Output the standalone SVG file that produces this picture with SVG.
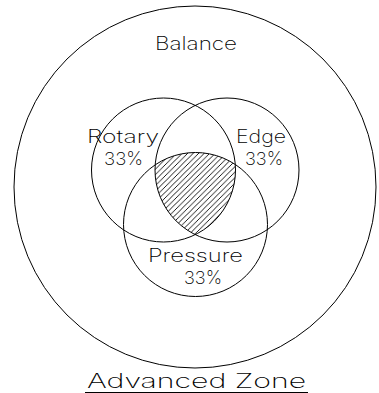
<svg xmlns="http://www.w3.org/2000/svg" width="379" height="393" viewBox="0 0 379 393">
<style>
.c{fill:none;stroke:#000;stroke-width:1}
.t{font-family:Inter,"Liberation Sans","DejaVu Sans",sans-serif;font-size:18px;fill:#000;font-weight:200}
.ti{font-family:Inter,"Liberation Sans","DejaVu Sans",sans-serif;font-size:20px;fill:#000;font-weight:200}
</style>
<defs>
<pattern id="hatch" patternUnits="userSpaceOnUse" width="5.5" height="5.5">
<path d="M-1,6.5 L6.5,-1 M-1,1 L1,-1 M4.5,6.5 L6.5,4.5" stroke="#000" stroke-width="0.9"/>
</pattern>
<clipPath id="cl"><circle cx="163.5" cy="170" r="72"/></clipPath>
<clipPath id="cr"><circle cx="227" cy="170" r="72"/></clipPath>
<clipPath id="cb"><circle cx="195.5" cy="224.5" r="72"/></clipPath>
</defs>
<rect width="379" height="393" fill="#fff"/>
<g id="hatched">
<g clip-path="url(#cl)"><g clip-path="url(#cr)"><rect x="100" y="100" width="200" height="200" fill="url(#hatch)" clip-path="url(#cb)"/></g></g>
</g>
<g id="balance">
<circle class="c" cx="195" cy="187" r="181"/>
<text class="t" x="196" y="50" text-anchor="middle" textLength="82" lengthAdjust="spacingAndGlyphs">Balance</text>
</g>
<g id="rotary">
<circle class="c" cx="163.5" cy="170" r="72"/>
<text class="t" x="123" y="143" text-anchor="middle" textLength="72" lengthAdjust="spacingAndGlyphs">Rotary</text>
<text class="t" x="123.5" y="165" text-anchor="middle" textLength="39" lengthAdjust="spacingAndGlyphs">33%</text>
</g>
<g id="edge">
<circle class="c" cx="227" cy="170" r="72"/>
<text class="t" x="261" y="143" text-anchor="middle" textLength="50" lengthAdjust="spacingAndGlyphs">Edge</text>
<text class="t" x="264" y="165" text-anchor="middle" textLength="38" lengthAdjust="spacingAndGlyphs">33%</text>
</g>
<g id="pressure">
<circle class="c" cx="195.5" cy="224.5" r="72"/>
<text class="t" x="195.5" y="262" text-anchor="middle" textLength="95" lengthAdjust="spacingAndGlyphs">Pressure</text>
<text class="t" x="203" y="284" text-anchor="middle" textLength="38" lengthAdjust="spacingAndGlyphs">33%</text>
</g>
<g id="title">
<text class="ti" x="196.5" y="388" text-anchor="middle" textLength="219" lengthAdjust="spacingAndGlyphs">Advanced Zone</text>
<line x1="85" y1="392.5" x2="308" y2="392.5" stroke="#000" stroke-width="1"/>
</g>
</svg>
